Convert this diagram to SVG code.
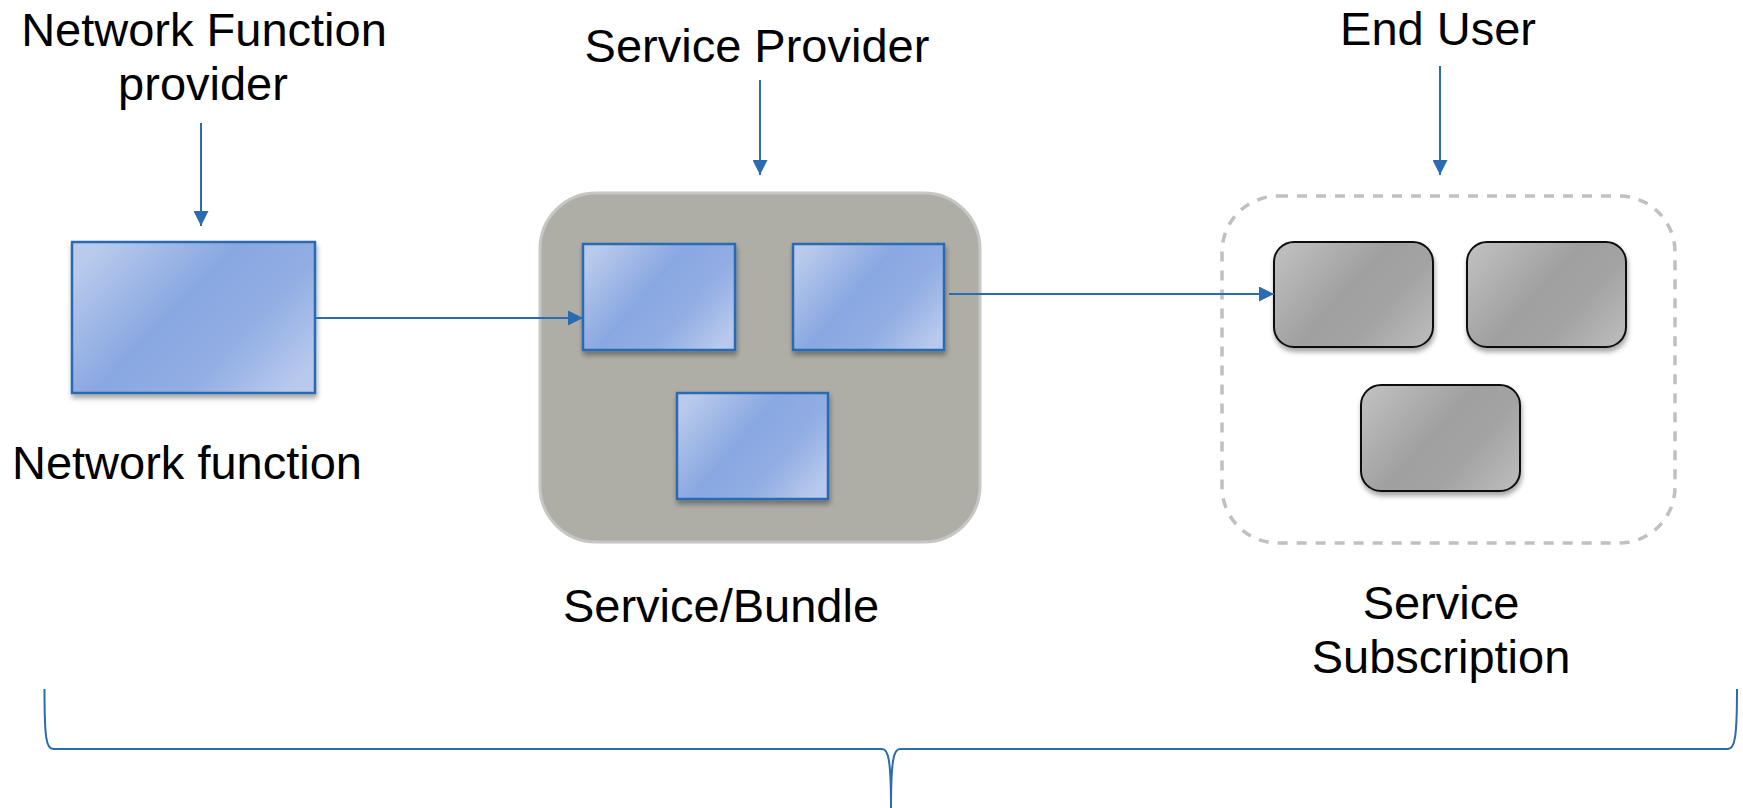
<svg xmlns="http://www.w3.org/2000/svg" width="1743" height="808" viewBox="0 0 1743 808">
<defs>
<linearGradient id="blueGrad" x1="0" y1="0.2" x2="1" y2="0.8">
<stop offset="0" stop-color="#b9caec"/>
<stop offset="0.42" stop-color="#89a7e1"/>
<stop offset="0.7" stop-color="#92aee3"/>
<stop offset="1" stop-color="#b8c9ed"/>
</linearGradient>
<linearGradient id="grayGrad" x1="0" y1="0.2" x2="1" y2="0.8">
<stop offset="0" stop-color="#bdbdbd"/>
<stop offset="0.45" stop-color="#a0a0a0"/>
<stop offset="0.7" stop-color="#a3a3a3"/>
<stop offset="1" stop-color="#b8b8b8"/>
</linearGradient>
<filter id="shadow" x="-10%" y="-10%" width="125%" height="130%">
<feDropShadow dx="1" dy="4" stdDeviation="2.5" flood-color="#000" flood-opacity="0.35"/>
</filter>
<marker id="arrow" viewBox="0 0 10 10" refX="10" refY="5" markerWidth="7.5" markerHeight="7.5" markerUnits="strokeWidth" orient="auto">
<path d="M0,0 L10,5 L0,10 z" fill="#2b6bb2"/>
</marker>
<style>
.lbl{font-family:"Liberation Sans",Arial,sans-serif;font-size:47px;fill:#000;text-anchor:middle}
.blue{fill:url(#blueGrad);stroke:#2b6bb2;stroke-width:2.5;filter:url(#shadow)}
.gbox{fill:url(#grayGrad);stroke:#111;stroke-width:2;filter:url(#shadow)}
.conn{fill:none;stroke:#2b6bb2;stroke-width:2;marker-end:url(#arrow)}
</style>
</defs>

<g id="labels">
<text class="lbl" x="204" y="46">Network Function</text>
<text class="lbl" x="203" y="100">provider</text>
<text class="lbl" x="757" y="62">Service Provider</text>
<text class="lbl" x="1438" y="45">End User</text>
<text class="lbl" x="187" y="479">Network function</text>
<text class="lbl" x="721" y="622">Service/Bundle</text>
<text class="lbl" x="1441" y="619">Service</text>
<text class="lbl" x="1441" y="673">Subscription</text>
</g>

<g id="network-function">
<rect class="blue" x="72" y="242" width="243" height="151"/>
</g>

<g id="service-bundle">
<rect x="540" y="193" width="440" height="349" rx="56" fill="#aeada6" stroke="#c6c6c6" stroke-width="3"/>
<rect class="blue" x="583" y="244" width="152" height="106"/>
<rect class="blue" x="793" y="244" width="151" height="106"/>
<rect class="blue" x="677" y="393" width="151" height="106"/>
</g>

<g id="service-subscription">
<rect x="1222" y="196" width="453" height="347" rx="56" fill="none" stroke="#c0c0c0" stroke-width="3.5" stroke-dasharray="10 9"/>
<rect class="gbox" x="1274" y="242" width="159" height="105" rx="20"/>
<rect class="gbox" x="1467" y="242" width="159" height="105" rx="20"/>
<rect class="gbox" x="1361" y="385" width="159" height="106" rx="20"/>
</g>

<g id="connectors">
<line class="conn" x1="201" y1="123" x2="201" y2="226"/>
<line class="conn" x1="760" y1="80" x2="760" y2="175"/>
<line class="conn" x1="1440" y1="66" x2="1440" y2="175"/>
<line class="conn" x1="315" y1="318" x2="583" y2="318"/>
<line class="conn" x1="949" y1="294" x2="1274" y2="294"/>
</g>

<g id="brace">
<path d="M44.5 689 C44.5 736 46 749 53 749 L882 749 C888 749 891 758 891 808 M891 808 C891 758 894 749 900 749 L1728 749 C1735 749 1737 736 1737 689" fill="none" stroke="#2b6bb2" stroke-width="2"/>
</g>
</svg>
